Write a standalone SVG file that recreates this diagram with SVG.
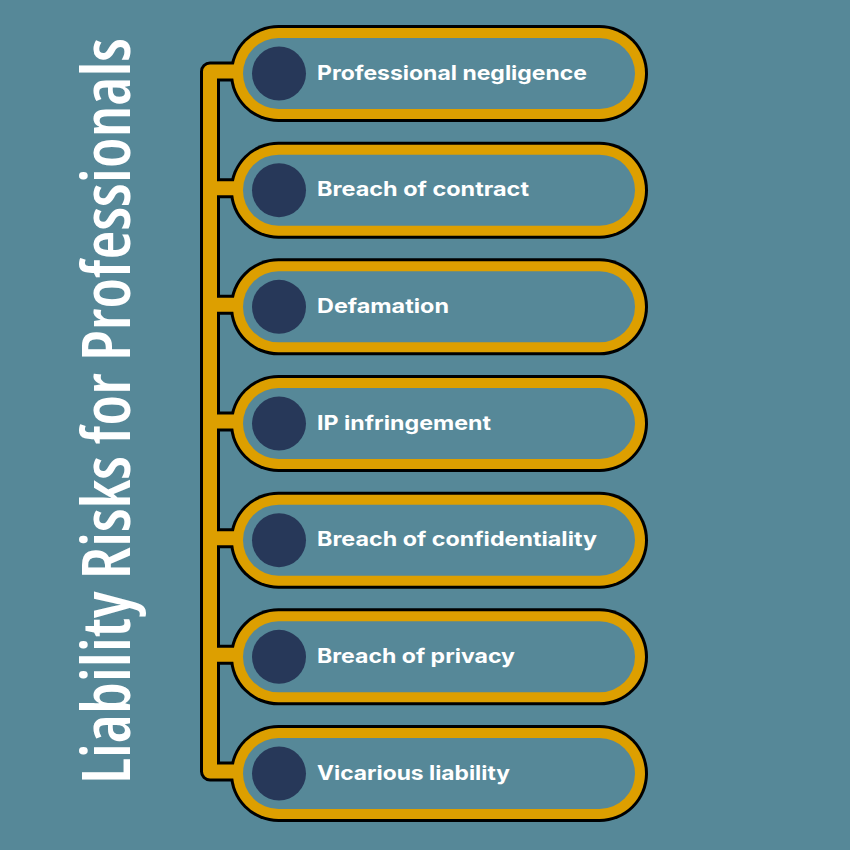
<svg xmlns="http://www.w3.org/2000/svg" width="850" height="850" viewBox="0 0 850 850">
<style>
.po{fill:#000}
.pg{fill:#dd9f00}
.pi{fill:#568898}
.dot{fill:#273859}
.lbl{font-family:Inter,"Noto Sans",sans-serif;font-weight:700;font-size:20px;fill:#fff}
.title{font-family:"Open Sans","Noto Sans",sans-serif;font-weight:600;font-stretch:75%;font-size:67px;fill:#fff}
.cb{fill:none;stroke:#000;stroke-width:20;stroke-linejoin:round}
.cg{fill:none;stroke:#dd9f00;stroke-width:14;stroke-linejoin:round}
</style>
<rect width="850" height="850" fill="#568898"/>
<g id="title">
<text class="title" transform="translate(130,784) rotate(-90)" x="0" y="0" textLength="746" lengthAdjust="spacingAndGlyphs">Liability Risks for Professionals</text>
</g>
<g id="n1">
<rect class="po" x="230" y="25" width="418" height="97" rx="48.5"/>
<rect class="pg" x="233" y="28" width="412" height="91" rx="45.5"/>
<rect class="pi" x="243" y="38" width="392" height="71" rx="35.5"/>
<circle class="dot" cx="279" cy="73.5" r="27"/>
<text class="lbl" x="317" y="79.5" textLength="270" lengthAdjust="spacingAndGlyphs">Professional negligence</text>
</g>
<g id="n2" transform="translate(0,116.67)">
<rect class="po" x="230" y="25" width="418" height="97" rx="48.5"/>
<rect class="pg" x="233" y="28" width="412" height="91" rx="45.5"/>
<rect class="pi" x="243" y="38" width="392" height="71" rx="35.5"/>
<circle class="dot" cx="279" cy="73.5" r="27"/>
<text class="lbl" x="317" y="79.5" textLength="212" lengthAdjust="spacingAndGlyphs">Breach of contract</text>
</g>
<g id="n3" transform="translate(0,233.33)">
<rect class="po" x="230" y="25" width="418" height="97" rx="48.5"/>
<rect class="pg" x="233" y="28" width="412" height="91" rx="45.5"/>
<rect class="pi" x="243" y="38" width="392" height="71" rx="35.5"/>
<circle class="dot" cx="279" cy="73.5" r="27"/>
<text class="lbl" x="317" y="79.5" textLength="132" lengthAdjust="spacingAndGlyphs">Defamation</text>
</g>
<g id="n4" transform="translate(0,350)">
<rect class="po" x="230" y="25" width="418" height="97" rx="48.5"/>
<rect class="pg" x="233" y="28" width="412" height="91" rx="45.5"/>
<rect class="pi" x="243" y="38" width="392" height="71" rx="35.5"/>
<circle class="dot" cx="279" cy="73.5" r="27"/>
<text class="lbl" x="317" y="79.5" textLength="174" lengthAdjust="spacingAndGlyphs">IP infringement</text>
</g>
<g id="n5" transform="translate(0,466.67)">
<rect class="po" x="230" y="25" width="418" height="97" rx="48.5"/>
<rect class="pg" x="233" y="28" width="412" height="91" rx="45.5"/>
<rect class="pi" x="243" y="38" width="392" height="71" rx="35.5"/>
<circle class="dot" cx="279" cy="73.5" r="27"/>
<text class="lbl" x="317" y="79.5" textLength="280" lengthAdjust="spacingAndGlyphs">Breach of confidentiality</text>
</g>
<g id="n6" transform="translate(0,583.33)">
<rect class="po" x="230" y="25" width="418" height="97" rx="48.5"/>
<rect class="pg" x="233" y="28" width="412" height="91" rx="45.5"/>
<rect class="pi" x="243" y="38" width="392" height="71" rx="35.5"/>
<circle class="dot" cx="279" cy="73.5" r="27"/>
<text class="lbl" x="317" y="79.5" textLength="198" lengthAdjust="spacingAndGlyphs">Breach of privacy</text>
</g>
<g id="n7" transform="translate(0,700)">
<rect class="po" x="230" y="25" width="418" height="97" rx="48.5"/>
<rect class="pg" x="233" y="28" width="412" height="91" rx="45.5"/>
<rect class="pi" x="243" y="38" width="392" height="71" rx="35.5"/>
<circle class="dot" cx="279" cy="73.5" r="27"/>
<text class="lbl" x="317" y="79.5" textLength="193" lengthAdjust="spacingAndGlyphs">Vicarious liability</text>
</g>
<g id="connectors">
<path class="cb" d="M232 71.5 H210 V771.5 H232 M210 188.2 H232 M210 304.8 H232 M210 421.5 H232 M210 538.2 H232 M210 654.8 H232"/>
<path class="cg" d="M238 71.5 H210 V771.5 H238 M210 188.2 H238 M210 304.8 H238 M210 421.5 H238 M210 538.2 H238 M210 654.8 H238"/>
</g>
</svg>
